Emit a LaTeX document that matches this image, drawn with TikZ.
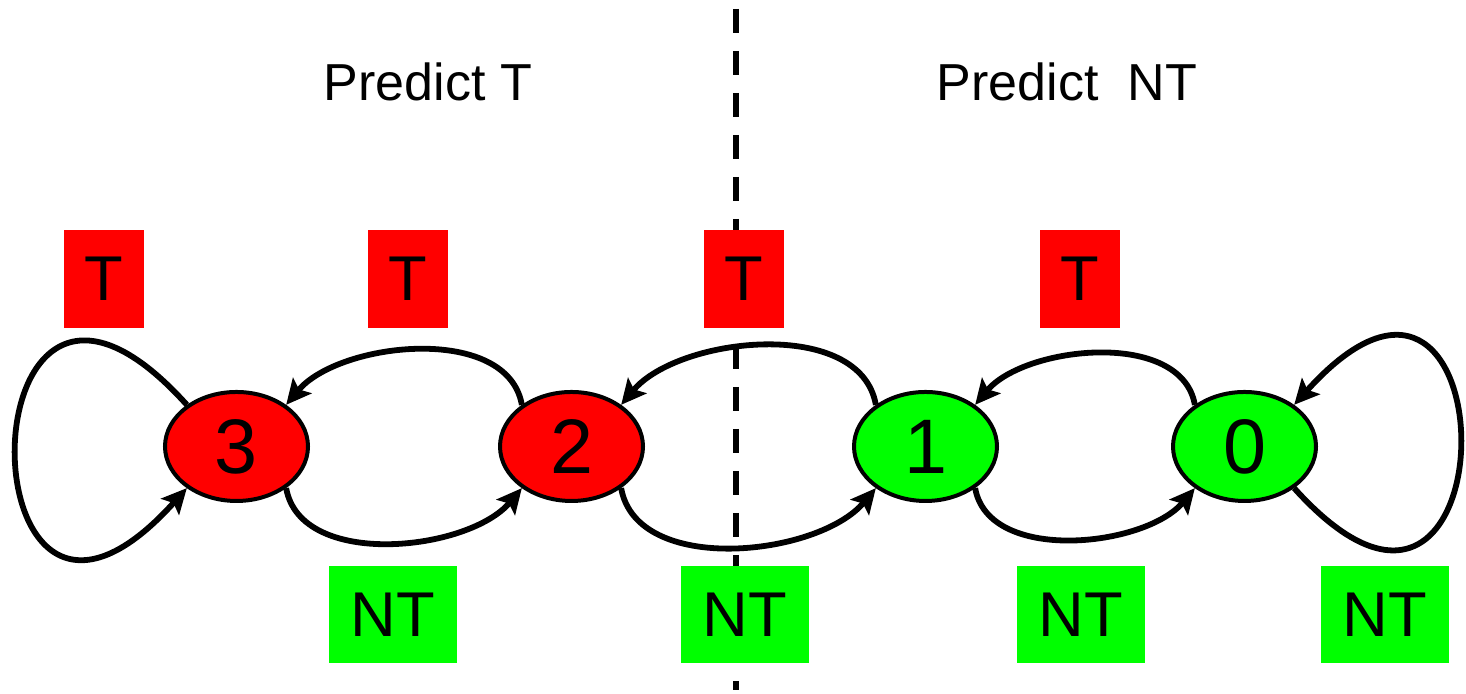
\documentclass[tikz,border=0pt]{standalone}
\usepackage{fontspec}
\setmainfont{Liberation Sans}
\usetikzlibrary{shapes.geometric, arrows.meta}

\definecolor{takenred}{RGB}{255,0,0}
\definecolor{ntgreen}{RGB}{0,255,0}

\begin{document}
\begin{tikzpicture}
    \tikzstyle{state} = [ellipse, draw=black, line width=0.04cm, minimum width=1.43cm, minimum height=1.09cm, inner sep=0pt, font=\fontsize{22}{24}\selectfont]
    \tikzstyle{taken} = [state, fill=takenred]
    \tikzstyle{nottaken} = [state, fill=ntgreen]
    \tikzstyle{tlabel} = [rectangle, fill=takenred, minimum width=0.8cm, minimum height=0.98cm, inner sep=0pt, font=\fontsize{18}{20}\selectfont]
    \tikzstyle{ntlabel} = [rectangle, fill=ntgreen, minimum width=1.28cm, minimum height=0.97cm, inner sep=0pt, font=\fontsize{18}{20}\selectfont]
    \tikzstyle{heading} = [font=\fontsize{14.8}{17}\selectfont]
    \tikzstyle{transition} = [line width=0.058cm, -{Stealth[length=0.25cm, width=0.24cm, inset=0.05cm]}]
    \tikzstyle{topbend} = [transition, out=100, in=50, looseness=0.9]
    \tikzstyle{bottombend} = [transition, out=280, in=230, looseness=0.9]
    \tikzstyle{divider} = [line width=0.06cm, dash pattern=on 0.24cm off 0.18cm]

    \useasboundingbox (0,0) rectangle (14.66,6.94);

    % split between the two predictions
    \coordinate (divtop) at (7.36,6.85);
    \coordinate (divbot) at (7.36,0.04);
    \draw [divider] (divtop) -- (divbot);

    \node (predt) [heading] at (4.28,6.12) {Predict T};
    \node (prednt) [heading] at (10.67,6.12) {Predict\ \ NT};

    % counter states
    \node (n3) [taken] at (2.365,2.475) {3};
    \node (n2) [taken] at (5.715,2.475) {2};
    \node (n1) [nottaken] at (9.255,2.475) {1};
    \node (n0) [nottaken] at (12.445,2.475) {0};

    % outcome labels
    \node (t3) [tlabel] at (1.04,4.15) {T};
    \node (t2) [tlabel] at (4.08,4.15) {T};
    \node (t1) [tlabel] at (7.44,4.15) {T};
    \node (t0) [tlabel] at (10.80,4.15) {T};
    \node (nt3) [ntlabel] at (3.93,0.795) {NT};
    \node (nt2) [ntlabel] at (7.45,0.795) {NT};
    \node (nt1) [ntlabel] at (10.81,0.795) {NT};
    \node (nt0) [ntlabel] at (13.845,0.795) {NT};

    % taken: move left
    \draw [transition] (n3.140) to[out=132, in=228, distance=3.4cm] (n3.220);
    \draw [topbend] (n2.140) to (n3.40);
    \draw [topbend] (n1.140) to (n2.40);
    \draw [topbend] (n0.140) to (n1.40);

    % not taken: move right
    \draw [bottombend] (n3.-40) to (n2.220);
    \draw [bottombend] (n2.-40) to (n1.220);
    \draw [bottombend] (n1.-40) to (n0.220);
    \draw [transition] (n0.-40) to[out=-48, in=48, distance=3.3cm] (n0.40);
\end{tikzpicture}
\end{document}
